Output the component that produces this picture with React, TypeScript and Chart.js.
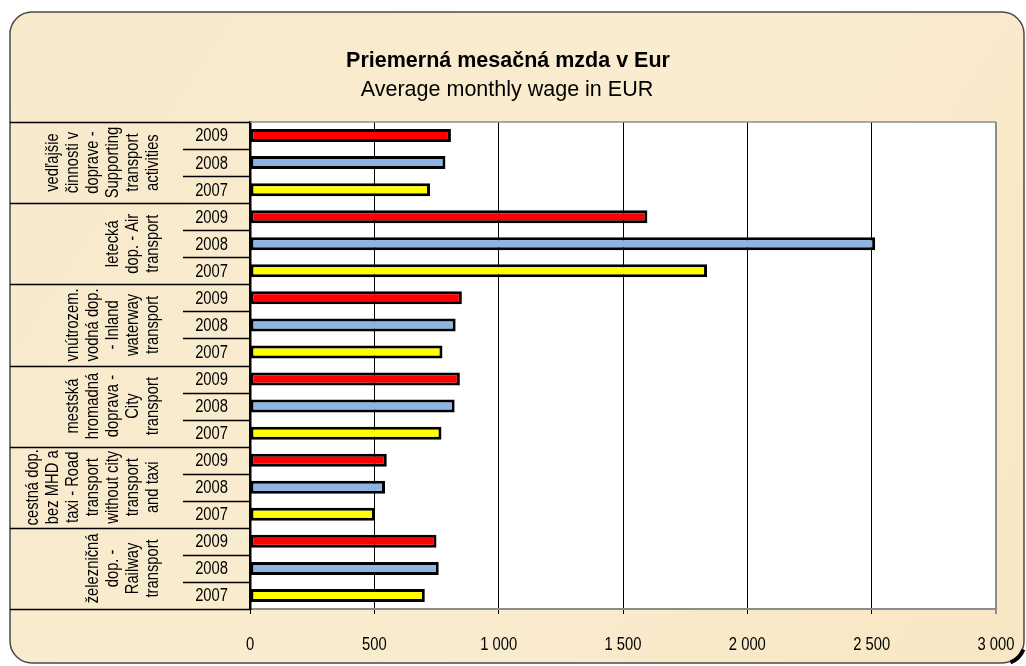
import React, { useEffect, useRef } from "react";
import { Chart, registerables } from "chart.js";

Chart.register(...registerables);

const groupLabels: string[][] = [
  ["vedľajšie", "činnosti v", "doprave -", "Supporting", "transport", "activities"],
  ["letecká", "dop. - Air", "transport"],
  ["vnútrozem.", "vodná dop.", "- Inland", "waterway", "transport"],
  ["mestská", "hromadná", "doprava -", "City", "transport"],
  ["cestná dop.", "bez MHD a", "taxi - Road", "transport", "without city", "transport", "and taxi"],
  ["železničná", "dop. -", "Railway", "transport"],
];
const years = ["2009", "2008", "2007"];
const wage2009 = [808, 1598, 852, 844, 550, 750];
const wage2008 = [786, 2514, 827, 823, 543, 759];
const wage2007 = [724, 1838, 774, 770, 502, 703];
const yearColors = ["#FF0000", "#8DB4E2", "#FFFF00"];
const xTicks = [0, 500, 1000, 1500, 2000, 2500, 3000];

const titleText = "Priemerná mesačná mzda v Eur";
const subtitleText = "Average monthly wage in EUR";

const SANS = "'Liberation Sans', Arial, sans-serif";
const NARROW_SCALE = 0.82;

function fmt(v: number): string {
  return String(v).replace(/\B(?=(\d{3})+(?!\d))/g, " ");
}

function narrowText(
  ctx: CanvasRenderingContext2D,
  text: string,
  x: number,
  y: number,
  size: number,
  align: CanvasTextAlign,
  baseline: CanvasTextBaseline,
  rotate = 0
) {
  ctx.save();
  ctx.translate(x, y);
  if (rotate) ctx.rotate(rotate);
  ctx.scale(NARROW_SCALE, 1);
  ctx.font = `${size}px ${SANS}`;
  ctx.textAlign = align;
  ctx.textBaseline = baseline;
  ctx.fillStyle = "#000";
  ctx.fillText(text, 0, 0);
  ctx.restore();
}

export default function App() {
  const ref = useRef<HTMLCanvasElement | null>(null);

  useEffect(() => {
    const canvas = ref.current;
    if (!canvas) return;

    const labels: string[] = [];
    const values: number[] = [];
    const colors: string[] = [];
    const series = [wage2009, wage2008, wage2007];
    groupLabels.forEach((_, g) => {
      years.forEach((y, k) => {
        labels.push(y);
        values.push(series[k][g]);
        colors.push(yearColors[k]);
      });
    });

    const decor = {
      id: "decor",
      beforeDraw(chart: any) {
        const ctx = chart.ctx as CanvasRenderingContext2D;
        const { chartArea } = chart;
        ctx.save();
        ctx.fillStyle = "#ffffff";
        ctx.fillRect(0, 0, chart.width, chart.height);
        const x0 = 10, y0 = 12, x1 = 1024, y1 = 663, r = 22;
        ctx.beginPath();
        ctx.moveTo(x0 + r, y0);
        ctx.lineTo(x1 - r, y0);
        ctx.arcTo(x1, y0, x1, y0 + r, r);
        ctx.lineTo(x1, y1 - r);
        ctx.arcTo(x1, y1, x1 - r, y1, r);
        ctx.lineTo(x0 + r, y1);
        ctx.arcTo(x0, y1, x0, y1 - r, r);
        ctx.lineTo(x0, y0 + r);
        ctx.arcTo(x0, y0, x0 + r, y0, r);
        ctx.closePath();
        const grad = ctx.createLinearGradient(0, 0, 1026, 666);
        grad.addColorStop(0, "#F7E9CC");
        grad.addColorStop(0.5, "#F9ECCF");
        grad.addColorStop(1, "#F8E7C4");
        ctx.fillStyle = grad;
        ctx.fill();
        ctx.strokeStyle = "#4a4a4a";
        ctx.lineWidth = 1.5;
        ctx.stroke();
        ctx.beginPath();
        ctx.arc(x1 - r, y1 - r, r + 1, 0.12 * Math.PI, 0.38 * Math.PI);
        ctx.strokeStyle = "#000";
        ctx.lineWidth = 4;
        ctx.stroke();
        ctx.fillStyle = "#ffffff";
        ctx.fillRect(chartArea.left, chartArea.top, chartArea.right - chartArea.left, chartArea.bottom - chartArea.top);
        ctx.fillStyle = "#000";
        ctx.textAlign = "center";
        ctx.textBaseline = "alphabetic";
        ctx.font = `bold 21.5px ${SANS}`;
        ctx.fillText(titleText, 508, 67);
        ctx.font = `21.5px ${SANS}`;
        ctx.fillText(subtitleText, 507, 96);
        ctx.restore();
      },
      afterDraw(chart: any) {
        const ctx = chart.ctx as CanvasRenderingContext2D;
        const { chartArea } = chart;
        const yScale = chart.scales.y;
        const xScale = chart.scales.x;
        ctx.save();
        ctx.strokeStyle = "#8c8c8c";
        ctx.lineWidth = 1.5;
        ctx.beginPath();
        ctx.moveTo(chartArea.left, chartArea.top);
        ctx.lineTo(chartArea.right, chartArea.top);
        ctx.stroke();
        xTicks.forEach((v) => {
          narrowText(ctx, fmt(v), xScale.getPixelForValue(v), 650, 18, "center", "alphabetic");
        });
        ctx.strokeStyle = "#000";
        ctx.lineWidth = 1.4;
        const n = labels.length;
        const edges: number[] = [];
        for (let i = 0; i <= n; i++) {
          let y: number;
          if (i === 0) y = chartArea.top;
          else if (i === n) y = chartArea.bottom;
          else y = (yScale.getPixelForValue(i - 1) + yScale.getPixelForValue(i)) / 2;
          edges.push(y);
          const isGroup = i % 3 === 0;
          ctx.beginPath();
          ctx.moveTo(isGroup ? 10 : 183, Math.round(y) + 0.5);
          ctx.lineTo(chartArea.left, Math.round(y) + 0.5);
          ctx.stroke();
        }
        labels.forEach((lab, i) => {
          narrowText(ctx, lab, 228, yScale.getPixelForValue(i) + 1, 18, "right", "middle");
        });
        groupLabels.forEach((lines, g) => {
          const yc = (edges[g * 3] + edges[g * 3 + 3]) / 2;
          const m = lines.length;
          lines.forEach((line, k) => {
            const x = 153 - (m - 1 - k) * 20;
            narrowText(ctx, line, x, yc, 18, "center", "middle", -Math.PI / 2);
          });
        });
        ctx.restore();
      },
    };

    const chart = new Chart(canvas, {
      type: "bar",
      data: {
        labels,
        datasets: [
          {
            data: values,
            backgroundColor: colors,
            borderColor: "#000",
            borderWidth: 3,
            borderSkipped: false,
            barPercentage: 0.48,
            categoryPercentage: 1,
          },
        ],
      },
      options: {
        indexAxis: "y",
        animation: false,
        responsive: false,
        devicePixelRatio: 1,
        layout: { padding: { top: 122, right: 30, left: 0, bottom: 0 } },
        plugins: {
          legend: { display: false },
          tooltip: { enabled: false },
          title: { display: false },
        },
        scales: {
          x: {
            type: "linear",
            min: 0,
            max: 3000,
            afterBuildTicks(scale: any) {
              scale.ticks = xTicks.map((v) => ({ value: v }));
            },
            afterFit(scale: any) {
              scale.height = 57;
            },
            ticks: { display: false },
            grid: {
              color: (c: any) => (c.tick && c.tick.value === 3000 ? "#8c8c8c" : "#000"),
              lineWidth: (c: any) => (c.tick && c.tick.value === 3000 ? 2 : 1),
              drawTicks: true,
              tickLength: 5,
            },
            border: { color: "#8c8c8c", width: 2 },
          },
          y: {
            type: "category",
            afterFit(scale: any) {
              scale.width = 250;
            },
            ticks: { display: false },
            grid: { display: false, drawTicks: false },
            border: { display: true, color: "#000", width: 2.5 },
          },
        },
      },
      plugins: [decor],
    });

    return () => chart.destroy();
  }, []);

  return (
    <div style={{ position: "fixed", left: 0, top: 0, width: 1026, height: 666 }}>
      <canvas ref={ref} width={1026} height={666} style={{ display: "block", width: 1026, height: 666 }} />
    </div>
  );
}
